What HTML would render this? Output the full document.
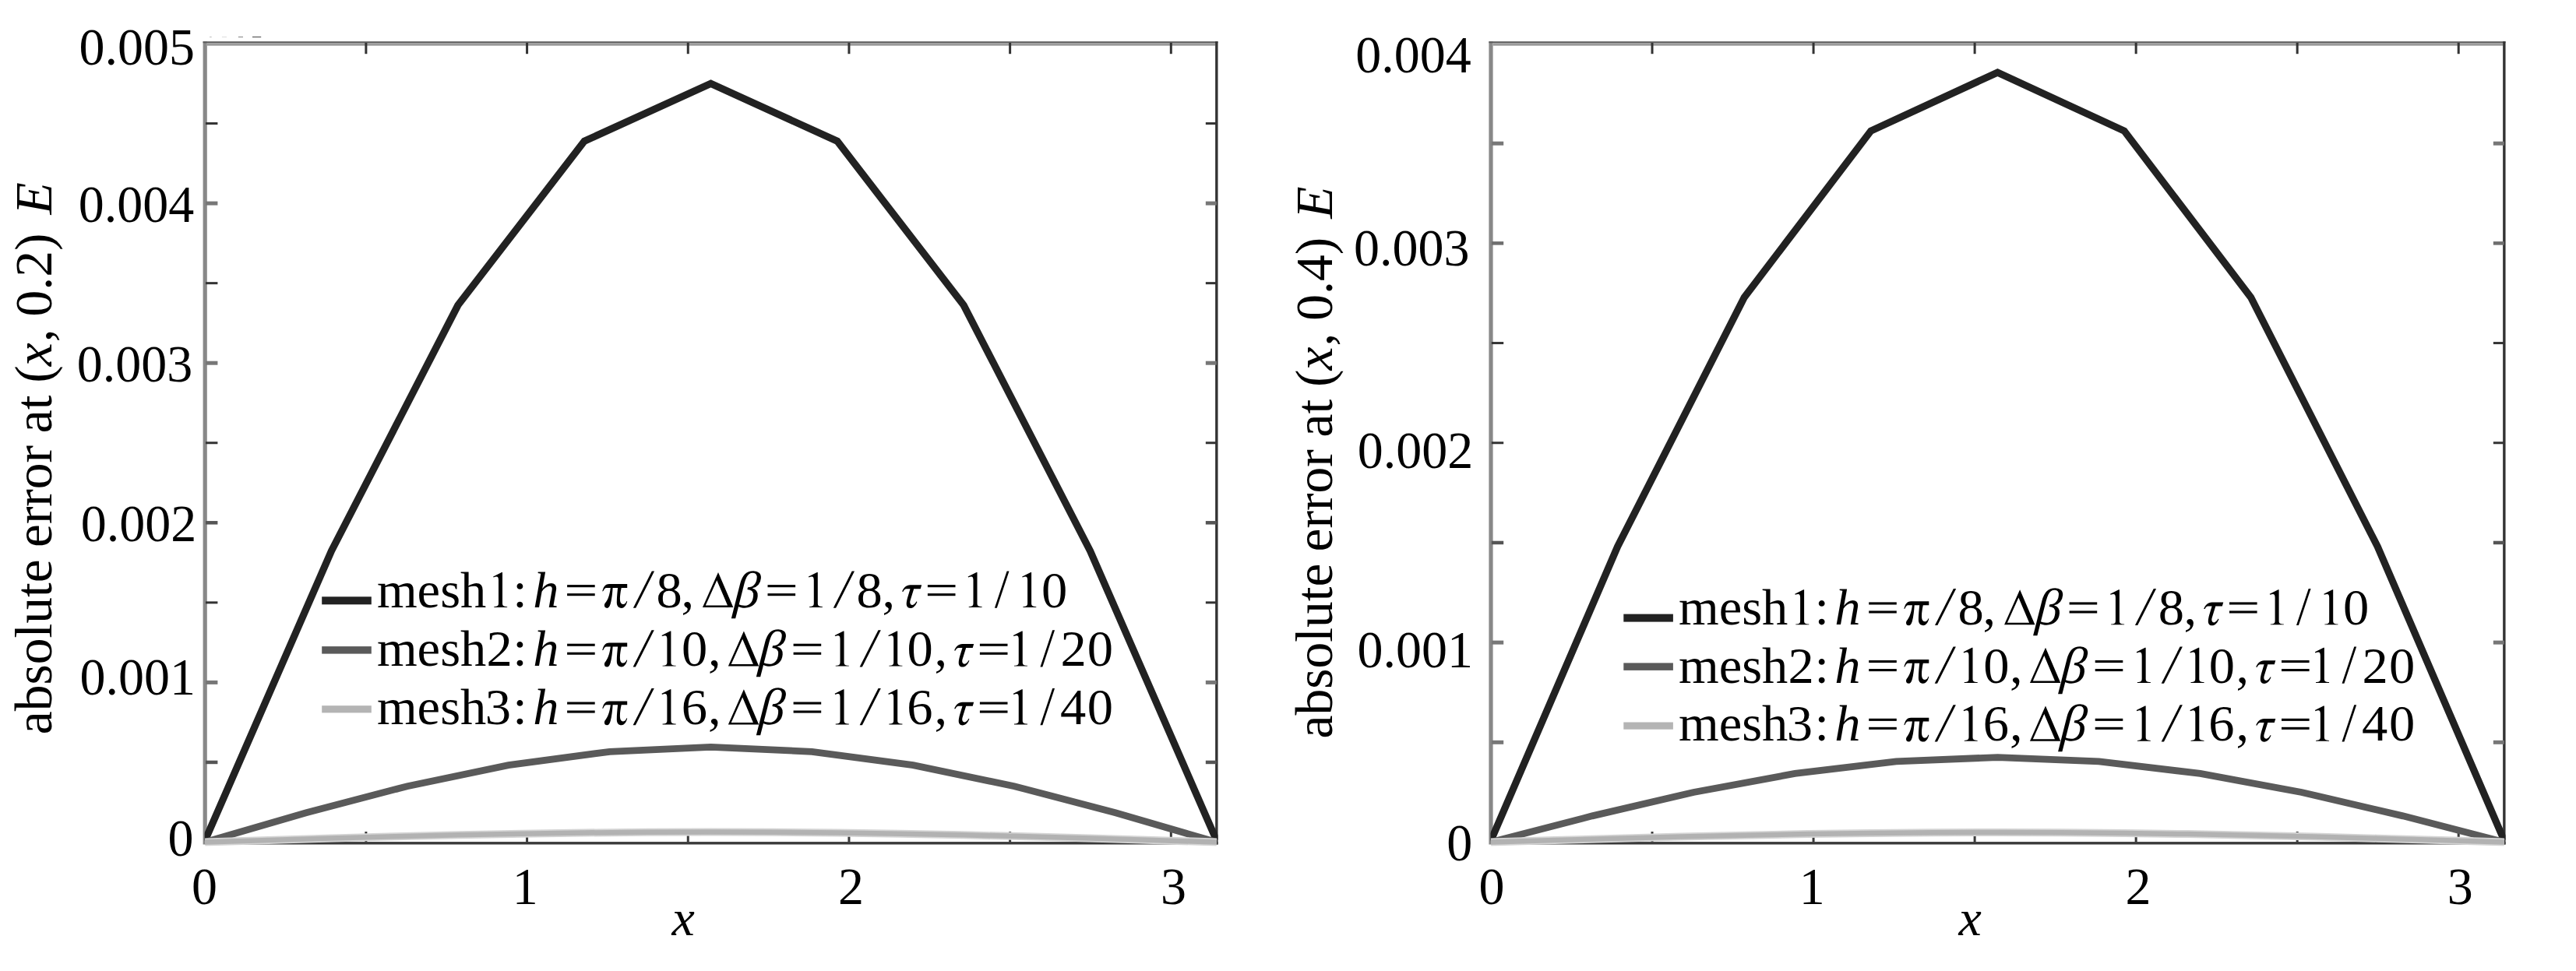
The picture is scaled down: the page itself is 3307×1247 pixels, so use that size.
<!DOCTYPE html>
<html><head><meta charset="utf-8"><title>chart</title>
<style>
html,body{margin:0;padding:0;background:#fff;}
body{width:3307px;height:1247px;overflow:hidden;}
svg{display:block;}
text{font-family:"Liberation Serif",serif;fill:#000;}
</style></head><body>
<svg width="3307" height="1247" viewBox="0 0 3307 1247" role="img" aria-label="Absolute error E versus x for three meshes, at (x, 0.2) and (x, 0.4)">
<desc>Two line charts. Left: absolute error at (x, 0.2) E versus x. Right: absolute error at (x, 0.4) E versus x. Legend: mesh1: h=π/8, Δβ=1/8, τ=1/10; mesh2: h=π/10, Δβ=1/10, τ=1/20; mesh3: h=π/16, Δβ=1/16, τ=1/40.</desc>
<rect width="3307" height="1247" fill="#ffffff"/>
<clipPath id="cl"><rect x="262.70" y="56.00" width="1300.84" height="1030.70"/></clipPath>
<rect x="260.60" y="53.20" width="5.20" height="1031.30" fill="#888888"/>
<rect x="260.60" y="53.20" width="1302.94" height="2.00" fill="#5c5c5c"/>
<rect x="265.80" y="55.20" width="1294.34" height="3.50" fill="#9a9a9a"/>
<rect x="1560.14" y="53.20" width="3.40" height="1031.30" fill="#333333"/>
<rect x="263.20" y="1081.10" width="1300.34" height="3.40" fill="#3a3a3a"/>
<rect x="468.38" y="55.00" width="3.00" height="14.20" fill="#333333"/>
<rect x="468.38" y="1068.00" width="3.00" height="13.50" fill="#3a3a3a"/>
<rect x="675.07" y="55.00" width="3.00" height="14.20" fill="#333333"/>
<rect x="675.07" y="1068.00" width="3.00" height="13.50" fill="#3a3a3a"/>
<rect x="881.76" y="55.00" width="3.00" height="14.20" fill="#333333"/>
<rect x="881.76" y="1068.00" width="3.00" height="13.50" fill="#3a3a3a"/>
<rect x="1088.44" y="55.00" width="3.00" height="14.20" fill="#333333"/>
<rect x="1088.44" y="1068.00" width="3.00" height="13.50" fill="#3a3a3a"/>
<rect x="1295.12" y="55.00" width="3.00" height="14.20" fill="#333333"/>
<rect x="1295.12" y="1068.00" width="3.00" height="13.50" fill="#3a3a3a"/>
<rect x="1501.81" y="55.00" width="3.00" height="14.20" fill="#333333"/>
<rect x="1501.81" y="1068.00" width="3.00" height="13.50" fill="#3a3a3a"/>
<rect x="264.00" y="976.70" width="15.40" height="4.50" fill="#555555"/>
<rect x="1547.84" y="976.70" width="14.00" height="4.50" fill="#555555"/>
<rect x="264.00" y="873.90" width="15.40" height="5.00" fill="#777777"/>
<rect x="1547.84" y="873.90" width="14.00" height="5.00" fill="#777777"/>
<rect x="264.00" y="772.35" width="15.40" height="3.00" fill="#333333"/>
<rect x="1547.84" y="772.35" width="14.00" height="3.00" fill="#333333"/>
<rect x="264.00" y="669.05" width="15.40" height="4.50" fill="#555555"/>
<rect x="1547.84" y="669.05" width="14.00" height="4.50" fill="#555555"/>
<rect x="264.00" y="567.25" width="15.40" height="3.00" fill="#333333"/>
<rect x="1547.84" y="567.25" width="14.00" height="3.00" fill="#333333"/>
<rect x="264.00" y="463.70" width="15.40" height="5.00" fill="#777777"/>
<rect x="1547.84" y="463.70" width="14.00" height="5.00" fill="#777777"/>
<rect x="264.00" y="362.15" width="15.40" height="3.00" fill="#333333"/>
<rect x="1547.84" y="362.15" width="14.00" height="3.00" fill="#333333"/>
<rect x="264.00" y="258.60" width="15.40" height="5.00" fill="#777777"/>
<rect x="1547.84" y="258.60" width="14.00" height="5.00" fill="#777777"/>
<rect x="264.00" y="157.05" width="15.40" height="3.00" fill="#333333"/>
<rect x="1547.84" y="157.05" width="14.00" height="3.00" fill="#333333"/>
<polyline clip-path="url(#cl)" points="263.20,1079.50 425.53,707.46 587.86,392.05 750.19,181.30 912.52,107.30 1074.85,181.30 1237.18,392.05 1399.51,707.46 1561.84,1079.50" fill="none" stroke="#222222" stroke-width="9.2" stroke-linejoin="miter" stroke-linecap="butt"/>
<polyline clip-path="url(#cl)" points="263.20,1081.50 393.06,1043.74 522.93,1009.67 652.79,982.64 782.66,965.28 912.52,959.30 1042.38,965.28 1172.25,982.64 1302.11,1009.67 1431.98,1043.74 1561.84,1081.50" fill="none" stroke="#5a5a5a" stroke-width="8.8" stroke-linejoin="miter" stroke-linecap="butt"/>
<polyline clip-path="url(#cl)" points="263.20,1081.50 344.37,1078.96 425.53,1076.53 506.70,1074.28 587.86,1072.31 669.03,1070.69 750.19,1069.49 831.36,1068.75 912.52,1068.50 993.69,1068.75 1074.85,1069.49 1156.02,1070.69 1237.18,1072.31 1318.35,1074.28 1399.51,1076.53 1480.68,1078.96 1561.84,1081.50" fill="none" stroke="#d4d4d4" stroke-width="10" stroke-linejoin="miter" stroke-linecap="butt"/>
<polyline clip-path="url(#cl)" points="263.20,1081.50 344.37,1078.96 425.53,1076.53 506.70,1074.28 587.86,1072.31 669.03,1070.69 750.19,1069.49 831.36,1068.75 912.52,1068.50 993.69,1068.75 1074.85,1069.49 1156.02,1070.69 1237.18,1072.31 1318.35,1074.28 1399.51,1076.53 1480.68,1078.96 1561.84,1081.50" fill="none" stroke="#b2b2b2" stroke-width="6.5" stroke-linejoin="miter" stroke-linecap="butt"/>
<clipPath id="cr"><rect x="1913.50" y="56.00" width="1303.04" height="1030.70"/></clipPath>
<rect x="1911.40" y="53.20" width="5.20" height="1031.30" fill="#888888"/>
<rect x="1911.40" y="53.20" width="1305.14" height="2.00" fill="#5c5c5c"/>
<rect x="1916.60" y="55.20" width="1296.54" height="3.50" fill="#9a9a9a"/>
<rect x="3213.14" y="53.20" width="3.40" height="1031.30" fill="#333333"/>
<rect x="1914.00" y="1081.10" width="1302.54" height="3.40" fill="#3a3a3a"/>
<rect x="2119.53" y="55.00" width="3.00" height="14.20" fill="#333333"/>
<rect x="2119.53" y="1068.00" width="3.00" height="13.50" fill="#3a3a3a"/>
<rect x="2326.57" y="55.00" width="3.00" height="14.20" fill="#333333"/>
<rect x="2326.57" y="1068.00" width="3.00" height="13.50" fill="#3a3a3a"/>
<rect x="2533.61" y="55.00" width="3.00" height="14.20" fill="#333333"/>
<rect x="2533.61" y="1068.00" width="3.00" height="13.50" fill="#3a3a3a"/>
<rect x="2740.64" y="55.00" width="3.00" height="14.20" fill="#333333"/>
<rect x="2740.64" y="1068.00" width="3.00" height="13.50" fill="#3a3a3a"/>
<rect x="2947.68" y="55.00" width="3.00" height="14.20" fill="#333333"/>
<rect x="2947.68" y="1068.00" width="3.00" height="13.50" fill="#3a3a3a"/>
<rect x="3154.71" y="55.00" width="3.00" height="14.20" fill="#333333"/>
<rect x="3154.71" y="1068.00" width="3.00" height="13.50" fill="#3a3a3a"/>
<rect x="1914.80" y="950.81" width="15.40" height="5.00" fill="#777777"/>
<rect x="3200.84" y="950.81" width="14.00" height="5.00" fill="#777777"/>
<rect x="1914.80" y="822.62" width="15.40" height="5.00" fill="#777777"/>
<rect x="3200.84" y="822.62" width="14.00" height="5.00" fill="#777777"/>
<rect x="1914.80" y="694.69" width="15.40" height="4.50" fill="#555555"/>
<rect x="3200.84" y="694.69" width="14.00" height="4.50" fill="#555555"/>
<rect x="1914.80" y="567.25" width="15.40" height="3.00" fill="#333333"/>
<rect x="3200.84" y="567.25" width="14.00" height="3.00" fill="#333333"/>
<rect x="1914.80" y="439.06" width="15.40" height="3.00" fill="#333333"/>
<rect x="3200.84" y="439.06" width="14.00" height="3.00" fill="#333333"/>
<rect x="1914.80" y="310.12" width="15.40" height="4.50" fill="#6e6e6e"/>
<rect x="3200.84" y="310.12" width="14.00" height="4.50" fill="#6e6e6e"/>
<rect x="1914.80" y="181.69" width="15.40" height="5.00" fill="#777777"/>
<rect x="3200.84" y="181.69" width="14.00" height="5.00" fill="#777777"/>
<polyline clip-path="url(#cr)" points="1914.00,1079.50 2076.60,701.98 2239.21,381.94 2401.81,168.09 2564.42,93.00 2727.02,168.09 2889.63,381.94 3052.23,701.98 3214.84,1079.50" fill="none" stroke="#222222" stroke-width="9.2" stroke-linejoin="miter" stroke-linecap="butt"/>
<polyline clip-path="url(#cr)" points="1914.00,1081.50 2044.08,1047.85 2174.17,1017.49 2304.25,993.40 2434.34,977.93 2564.42,972.60 2694.50,977.93 2824.59,993.40 2954.67,1017.49 3084.76,1047.85 3214.84,1081.50" fill="none" stroke="#5a5a5a" stroke-width="8.8" stroke-linejoin="miter" stroke-linecap="butt"/>
<polyline clip-path="url(#cr)" points="1914.00,1081.50 1995.30,1079.06 2076.60,1076.72 2157.91,1074.56 2239.21,1072.66 2320.51,1071.11 2401.81,1069.95 2483.12,1069.24 2564.42,1069.00 2645.72,1069.24 2727.02,1069.95 2808.33,1071.11 2889.63,1072.66 2970.93,1074.56 3052.23,1076.72 3133.54,1079.06 3214.84,1081.50" fill="none" stroke="#d4d4d4" stroke-width="10" stroke-linejoin="miter" stroke-linecap="butt"/>
<polyline clip-path="url(#cr)" points="1914.00,1081.50 1995.30,1079.06 2076.60,1076.72 2157.91,1074.56 2239.21,1072.66 2320.51,1071.11 2401.81,1069.95 2483.12,1069.24 2564.42,1069.00 2645.72,1069.24 2727.02,1069.95 2808.33,1071.11 2889.63,1072.66 2970.93,1074.56 3052.23,1076.72 3133.54,1079.06 3214.84,1081.50" fill="none" stroke="#b2b2b2" stroke-width="6.5" stroke-linejoin="miter" stroke-linecap="butt"/>
<rect x="269.10" y="46.90" width="2.60" height="1.20" fill="#c4c4c4"/>
<rect x="284.90" y="46.90" width="6.10" height="1.20" fill="#e2e2e2"/>
<rect x="305.90" y="46.90" width="6.10" height="1.20" fill="#909090"/>
<rect x="324.00" y="46.90" width="11.20" height="1.20" fill="#5a5a5a"/>
<text transform="translate(215.41,1099.13) scale(1,1.025)" font-size="66" text-anchor="start">0</text>
<text transform="translate(102.46,892.33) scale(1,1.025)" font-size="66" text-anchor="start">0.001</text>
<text transform="translate(103.64,694.93) scale(1,1.025)" font-size="66" text-anchor="start">0.002</text>
<text transform="translate(98.78,489.73) scale(1,1.025)" font-size="66" text-anchor="start">0.003</text>
<text transform="translate(100.83,284.93) scale(1,1.025)" font-size="66" text-anchor="start">0.004</text>
<text transform="translate(101.58,82.83) scale(1,1.025)" font-size="66" text-anchor="start">0.005</text>
<text transform="translate(1857.21,1105.13) scale(1,1.025)" font-size="66" text-anchor="start">0</text>
<text transform="translate(1742.46,856.73) scale(1,1.025)" font-size="66" text-anchor="start">0.001</text>
<text transform="translate(1742.74,600.73) scale(1,1.025)" font-size="66" text-anchor="start">0.002</text>
<text transform="translate(1738.08,340.93) scale(1,1.025)" font-size="66" text-anchor="start">0.003</text>
<text transform="translate(1740.13,93.13) scale(1,1.025)" font-size="66" text-anchor="start">0.004</text>
<text transform="translate(246.10,1161.00) scale(1,1.025)" font-size="66" text-anchor="start">0</text>
<text transform="translate(657.73,1161.00) scale(1,1.025)" font-size="66" text-anchor="start">1</text>
<text transform="translate(1076.07,1161.00) scale(1,1.025)" font-size="66" text-anchor="start">2</text>
<text transform="translate(1490.11,1161.00) scale(1,1.025)" font-size="66" text-anchor="start">3</text>
<text transform="translate(1898.50,1161.00) scale(1,1.025)" font-size="66" text-anchor="start">0</text>
<text transform="translate(2309.68,1161.00) scale(1,1.025)" font-size="66" text-anchor="start">1</text>
<text transform="translate(2728.57,1161.00) scale(1,1.025)" font-size="66" text-anchor="start">2</text>
<text transform="translate(3141.81,1161.00) scale(1,1.025)" font-size="66" text-anchor="start">3</text>
<text x="862.40" y="1201.30" font-size="66" text-anchor="start" font-style="italic">x</text>
<text x="2514.50" y="1201.30" font-size="66" text-anchor="start" font-style="italic">x</text>
<text transform="translate(66.30,830.80) rotate(-90)" font-size="67.5" text-anchor="middle">absolute</text>
<text transform="translate(66.30,637.50) rotate(-90)" font-size="67.5" text-anchor="middle">error</text>
<text transform="translate(66.30,531.80) rotate(-90)" font-size="67.5" text-anchor="middle">at</text>
<text transform="translate(66.30,480.40) rotate(-90)" font-size="67.5" text-anchor="middle">(</text>
<text transform="translate(66.30,455.30) rotate(-90)" font-size="67.5" text-anchor="middle" font-style="italic">x</text>
<text transform="translate(66.30,430.70) rotate(-90)" font-size="67.5" text-anchor="middle">,</text>
<text transform="translate(66.30,353.00) rotate(-90)" font-size="67.5" text-anchor="middle">0.2)</text>
<text transform="translate(66.30,254.90) rotate(-90)" font-size="67.5" text-anchor="middle" font-style="italic">E</text>
<text transform="translate(1710.40,836.10) rotate(-90)" font-size="67.5" text-anchor="middle">absolute</text>
<text transform="translate(1710.40,642.80) rotate(-90)" font-size="67.5" text-anchor="middle">error</text>
<text transform="translate(1710.40,537.10) rotate(-90)" font-size="67.5" text-anchor="middle">at</text>
<text transform="translate(1710.40,485.70) rotate(-90)" font-size="67.5" text-anchor="middle">(</text>
<text transform="translate(1710.40,460.60) rotate(-90)" font-size="67.5" text-anchor="middle" font-style="italic">x</text>
<text transform="translate(1710.40,436.00) rotate(-90)" font-size="67.5" text-anchor="middle">,</text>
<text transform="translate(1710.40,358.30) rotate(-90)" font-size="67.5" text-anchor="middle">0.4)</text>
<text transform="translate(1710.40,260.20) rotate(-90)" font-size="67.5" text-anchor="middle" font-style="italic">E</text>
<rect x="413.20" y="766.30" width="63.60" height="10.00" fill="#222222"/>
<text x="483.90" y="779.60" font-size="66.5" text-anchor="start">mesh</text>
<path transform="translate(641.90,779.60)" d="M3.1,-44.7 L3.1,-5 C3.1,-1.5 4.5,-0.6 9.3,-0.4 L9.3,0.4 L-7.7,0.4 L-7.7,-0.4 C-3.2,-0.6 -1.9,-1.5 -1.9,-5 L-1.9,-34.5 C-1.9,-37.8 -2.8,-39 -4.6,-39 C-5.6,-39 -6.8,-38.7 -8.3,-38.1 L-8.8,-39.2 L2.2,-44.7 Z" fill="#000"/>
<text x="658.33" y="779.60" font-size="66.5" text-anchor="start">:</text>
<text x="684.15" y="779.60" font-size="66.5" text-anchor="start" font-style="italic">h</text>
<rect x="728.10" y="751.10" width="35.60" height="3.10" fill="#000"/>
<rect x="728.10" y="762.10" width="35.60" height="3.10" fill="#000"/>
<path transform="translate(789.20,779.60)" d="M-16,-20 C-14.5,-25 -13,-29.6 -7,-29.6 L16,-29.6 L16,-24.7 L8.5,-24.7 C7.5,-20 6.7,-15 6.7,-10.8 C6.7,-6.5 8,-3.6 10.8,-3.6 C13,-3.6 14.5,-5.5 15.2,-7.7 L16,-7.4 C15,-3 12.5,1.3 8.8,1.3 C4.5,1.3 2.6,-2 2.6,-6.1 C2.6,-12 3.3,-19 3.9,-24.7 L-2.6,-24.7 C-3,-18 -3.8,-10 -5.5,-4 C-6.5,-0.5 -8,1.3 -9.8,1.3 C-12,1.3 -13.3,0 -13.3,-2 C-13.3,-4 -12.5,-5 -11.5,-6 C-8.5,-10 -6.5,-16 -5.4,-24.7 L-10.8,-24.7 C-12.5,-24.7 -13.8,-23 -14.7,-20.5 Z" fill="#000"/>
<polygon points="812.90,780.80 816.20,780.80 840.10,733.60 836.80,733.60" fill="#000"/>
<text x="842.38" y="779.60" font-size="66.5" text-anchor="start">8</text>
<text x="874.52" y="779.60" font-size="66.5" text-anchor="start">,</text>
<path transform="translate(922.40,779.60)" d="M-20.45,0.4 L-0.4,-44.7 L18.9,0.4 Z M-16.6,-2.1 L11.6,-2.1 L-2.1,-34.4 Z" fill="#000" fill-rule="evenodd"/>
<text transform="translate(957.10,779.60) skewX(-4.5)" x="-15.98" y="0" font-size="66.5" font-style="italic">β</text>
<rect x="985.50" y="751.10" width="35.60" height="3.10" fill="#000"/>
<rect x="985.50" y="762.10" width="35.60" height="3.10" fill="#000"/>
<path transform="translate(1046.70,779.60)" d="M3.1,-44.7 L3.1,-5 C3.1,-1.5 4.5,-0.6 9.3,-0.4 L9.3,0.4 L-7.7,0.4 L-7.7,-0.4 C-3.2,-0.6 -1.9,-1.5 -1.9,-5 L-1.9,-34.5 C-1.9,-37.8 -2.8,-39 -4.6,-39 C-5.6,-39 -6.8,-38.7 -8.3,-38.1 L-8.8,-39.2 L2.2,-44.7 Z" fill="#000"/>
<polygon points="1069.80,780.80 1073.10,780.80 1097.00,733.60 1093.70,733.60" fill="#000"/>
<text x="1099.58" y="779.60" font-size="66.5" text-anchor="start">8</text>
<text x="1132.52" y="779.60" font-size="66.5" text-anchor="start">,</text>
<path transform="translate(1170.30,779.60)" d="M-12.2,-19.8 C-10.5,-24.5 -7,-28.3 -1.8,-28.3 L12.9,-28.3 L11.4,-23.3 L2.9,-23.3 L-1.8,-8.2 C-2.6,-5 -1.5,-2.5 1,-2.5 C3,-2.5 4.8,-5 6.3,-7.3 L7.1,-6.7 C5.5,-2.5 2.5,1.4 -1.8,1.4 C-5,1.4 -6.6,-1 -6.6,-4 C-6.6,-6.5 -5.8,-10 -5.2,-12.1 L-1.8,-23.3 L-6.8,-23.3 C-8.5,-23.3 -9.8,-21.8 -10.7,-19.8 Z" fill="#000"/>
<rect x="1190.90" y="751.10" width="35.60" height="3.10" fill="#000"/>
<rect x="1190.90" y="762.10" width="35.60" height="3.10" fill="#000"/>
<path transform="translate(1251.40,779.60)" d="M3.1,-44.7 L3.1,-5 C3.1,-1.5 4.5,-0.6 9.3,-0.4 L9.3,0.4 L-7.7,0.4 L-7.7,-0.4 C-3.2,-0.6 -1.9,-1.5 -1.9,-5 L-1.9,-34.5 C-1.9,-37.8 -2.8,-39 -4.6,-39 C-5.6,-39 -6.8,-38.7 -8.3,-38.1 L-8.8,-39.2 L2.2,-44.7 Z" fill="#000"/>
<polygon points="1276.90,780.80 1279.80,780.80 1295.50,733.60 1292.60,733.60" fill="#000"/>
<path transform="translate(1321.00,779.60)" d="M3.1,-44.7 L3.1,-5 C3.1,-1.5 4.5,-0.6 9.3,-0.4 L9.3,0.4 L-7.7,0.4 L-7.7,-0.4 C-3.2,-0.6 -1.9,-1.5 -1.9,-5 L-1.9,-34.5 C-1.9,-37.8 -2.8,-39 -4.6,-39 C-5.6,-39 -6.8,-38.7 -8.3,-38.1 L-8.8,-39.2 L2.2,-44.7 Z" fill="#000"/>
<text x="1336.88" y="779.60" font-size="66.5" text-anchor="start">0</text>
<rect x="413.20" y="830.10" width="63.60" height="9.50" fill="#5a5a5a"/>
<text x="483.90" y="855.20" font-size="66.5" text-anchor="start">mesh</text>
<text x="624.45" y="855.20" font-size="66.5" text-anchor="start">2</text>
<text x="658.33" y="855.20" font-size="66.5" text-anchor="start">:</text>
<text x="684.15" y="855.20" font-size="66.5" text-anchor="start" font-style="italic">h</text>
<rect x="728.10" y="826.70" width="35.60" height="3.10" fill="#000"/>
<rect x="728.10" y="837.70" width="35.60" height="3.10" fill="#000"/>
<path transform="translate(789.20,855.20)" d="M-16,-20 C-14.5,-25 -13,-29.6 -7,-29.6 L16,-29.6 L16,-24.7 L8.5,-24.7 C7.5,-20 6.7,-15 6.7,-10.8 C6.7,-6.5 8,-3.6 10.8,-3.6 C13,-3.6 14.5,-5.5 15.2,-7.7 L16,-7.4 C15,-3 12.5,1.3 8.8,1.3 C4.5,1.3 2.6,-2 2.6,-6.1 C2.6,-12 3.3,-19 3.9,-24.7 L-2.6,-24.7 C-3,-18 -3.8,-10 -5.5,-4 C-6.5,-0.5 -8,1.3 -9.8,1.3 C-12,1.3 -13.3,0 -13.3,-2 C-13.3,-4 -12.5,-5 -11.5,-6 C-8.5,-10 -6.5,-16 -5.4,-24.7 L-10.8,-24.7 C-12.5,-24.7 -13.8,-23 -14.7,-20.5 Z" fill="#000"/>
<polygon points="812.60,856.40 815.90,856.40 839.80,809.20 836.50,809.20" fill="#000"/>
<path transform="translate(858.30,855.20)" d="M3.1,-44.7 L3.1,-5 C3.1,-1.5 4.5,-0.6 9.3,-0.4 L9.3,0.4 L-7.7,0.4 L-7.7,-0.4 C-3.2,-0.6 -1.9,-1.5 -1.9,-5 L-1.9,-34.5 C-1.9,-37.8 -2.8,-39 -4.6,-39 C-5.6,-39 -6.8,-38.7 -8.3,-38.1 L-8.8,-39.2 L2.2,-44.7 Z" fill="#000"/>
<text x="875.08" y="855.20" font-size="66.5" text-anchor="start">0</text>
<text x="909.02" y="855.20" font-size="66.5" text-anchor="start">,</text>
<path transform="translate(955.30,855.20)" d="M-20.45,0.4 L-0.4,-44.7 L18.9,0.4 Z M-16.6,-2.1 L11.6,-2.1 L-2.1,-34.4 Z" fill="#000" fill-rule="evenodd"/>
<text transform="translate(989.10,855.20) skewX(-4.5)" x="-15.98" y="0" font-size="66.5" font-style="italic">β</text>
<rect x="1018.60" y="826.70" width="35.60" height="3.10" fill="#000"/>
<rect x="1018.60" y="837.70" width="35.60" height="3.10" fill="#000"/>
<path transform="translate(1080.45,855.20)" d="M3.1,-44.7 L3.1,-5 C3.1,-1.5 4.5,-0.6 9.3,-0.4 L9.3,0.4 L-7.7,0.4 L-7.7,-0.4 C-3.2,-0.6 -1.9,-1.5 -1.9,-5 L-1.9,-34.5 C-1.9,-37.8 -2.8,-39 -4.6,-39 C-5.6,-39 -6.8,-38.7 -8.3,-38.1 L-8.8,-39.2 L2.2,-44.7 Z" fill="#000"/>
<polygon points="1103.60,856.40 1106.90,856.40 1130.80,809.20 1127.50,809.20" fill="#000"/>
<path transform="translate(1149.10,855.20)" d="M3.1,-44.7 L3.1,-5 C3.1,-1.5 4.5,-0.6 9.3,-0.4 L9.3,0.4 L-7.7,0.4 L-7.7,-0.4 C-3.2,-0.6 -1.9,-1.5 -1.9,-5 L-1.9,-34.5 C-1.9,-37.8 -2.8,-39 -4.6,-39 C-5.6,-39 -6.8,-38.7 -8.3,-38.1 L-8.8,-39.2 L2.2,-44.7 Z" fill="#000"/>
<text x="1164.62" y="855.20" font-size="66.5" text-anchor="start">0</text>
<text x="1199.52" y="855.20" font-size="66.5" text-anchor="start">,</text>
<path transform="translate(1237.30,855.20)" d="M-12.2,-19.8 C-10.5,-24.5 -7,-28.3 -1.8,-28.3 L12.9,-28.3 L11.4,-23.3 L2.9,-23.3 L-1.8,-8.2 C-2.6,-5 -1.5,-2.5 1,-2.5 C3,-2.5 4.8,-5 6.3,-7.3 L7.1,-6.7 C5.5,-2.5 2.5,1.4 -1.8,1.4 C-5,1.4 -6.6,-1 -6.6,-4 C-6.6,-6.5 -5.8,-10 -5.2,-12.1 L-1.8,-23.3 L-6.8,-23.3 C-8.5,-23.3 -9.8,-21.8 -10.7,-19.8 Z" fill="#000"/>
<rect x="1257.90" y="826.70" width="35.60" height="3.10" fill="#000"/>
<rect x="1257.90" y="837.70" width="35.60" height="3.10" fill="#000"/>
<path transform="translate(1309.65,855.20)" d="M3.1,-44.7 L3.1,-5 C3.1,-1.5 4.5,-0.6 9.3,-0.4 L9.3,0.4 L-7.7,0.4 L-7.7,-0.4 C-3.2,-0.6 -1.9,-1.5 -1.9,-5 L-1.9,-34.5 C-1.9,-37.8 -2.8,-39 -4.6,-39 C-5.6,-39 -6.8,-38.7 -8.3,-38.1 L-8.8,-39.2 L2.2,-44.7 Z" fill="#000"/>
<polygon points="1335.45,856.40 1338.35,856.40 1354.05,809.20 1351.15,809.20" fill="#000"/>
<text x="1361.40" y="855.20" font-size="66.5" text-anchor="start">2</text>
<text x="1395.83" y="855.20" font-size="66.5" text-anchor="start">0</text>
<rect x="413.20" y="906.20" width="63.60" height="9.20" fill="#b4b4b4"/>
<text x="483.90" y="930.00" font-size="66.5" text-anchor="start">mesh</text>
<text x="622.68" y="930.00" font-size="66.5" text-anchor="start">3</text>
<text x="658.33" y="930.00" font-size="66.5" text-anchor="start">:</text>
<text x="684.15" y="930.00" font-size="66.5" text-anchor="start" font-style="italic">h</text>
<rect x="728.10" y="901.50" width="35.60" height="3.10" fill="#000"/>
<rect x="728.10" y="912.50" width="35.60" height="3.10" fill="#000"/>
<path transform="translate(789.20,930.00)" d="M-16,-20 C-14.5,-25 -13,-29.6 -7,-29.6 L16,-29.6 L16,-24.7 L8.5,-24.7 C7.5,-20 6.7,-15 6.7,-10.8 C6.7,-6.5 8,-3.6 10.8,-3.6 C13,-3.6 14.5,-5.5 15.2,-7.7 L16,-7.4 C15,-3 12.5,1.3 8.8,1.3 C4.5,1.3 2.6,-2 2.6,-6.1 C2.6,-12 3.3,-19 3.9,-24.7 L-2.6,-24.7 C-3,-18 -3.8,-10 -5.5,-4 C-6.5,-0.5 -8,1.3 -9.8,1.3 C-12,1.3 -13.3,0 -13.3,-2 C-13.3,-4 -12.5,-5 -11.5,-6 C-8.5,-10 -6.5,-16 -5.4,-24.7 L-10.8,-24.7 C-12.5,-24.7 -13.8,-23 -14.7,-20.5 Z" fill="#000"/>
<polygon points="812.60,931.20 815.90,931.20 839.80,884.00 836.50,884.00" fill="#000"/>
<path transform="translate(858.30,930.00)" d="M3.1,-44.7 L3.1,-5 C3.1,-1.5 4.5,-0.6 9.3,-0.4 L9.3,0.4 L-7.7,0.4 L-7.7,-0.4 C-3.2,-0.6 -1.9,-1.5 -1.9,-5 L-1.9,-34.5 C-1.9,-37.8 -2.8,-39 -4.6,-39 C-5.6,-39 -6.8,-38.7 -8.3,-38.1 L-8.8,-39.2 L2.2,-44.7 Z" fill="#000"/>
<text x="874.64" y="930.00" font-size="66.5" text-anchor="start">6</text>
<text x="909.02" y="930.00" font-size="66.5" text-anchor="start">,</text>
<path transform="translate(955.30,930.00)" d="M-20.45,0.4 L-0.4,-44.7 L18.9,0.4 Z M-16.6,-2.1 L11.6,-2.1 L-2.1,-34.4 Z" fill="#000" fill-rule="evenodd"/>
<text transform="translate(989.10,930.00) skewX(-4.5)" x="-15.98" y="0" font-size="66.5" font-style="italic">β</text>
<rect x="1018.60" y="901.50" width="35.60" height="3.10" fill="#000"/>
<rect x="1018.60" y="912.50" width="35.60" height="3.10" fill="#000"/>
<path transform="translate(1080.45,930.00)" d="M3.1,-44.7 L3.1,-5 C3.1,-1.5 4.5,-0.6 9.3,-0.4 L9.3,0.4 L-7.7,0.4 L-7.7,-0.4 C-3.2,-0.6 -1.9,-1.5 -1.9,-5 L-1.9,-34.5 C-1.9,-37.8 -2.8,-39 -4.6,-39 C-5.6,-39 -6.8,-38.7 -8.3,-38.1 L-8.8,-39.2 L2.2,-44.7 Z" fill="#000"/>
<polygon points="1103.60,931.20 1106.90,931.20 1130.80,884.00 1127.50,884.00" fill="#000"/>
<path transform="translate(1149.10,930.00)" d="M3.1,-44.7 L3.1,-5 C3.1,-1.5 4.5,-0.6 9.3,-0.4 L9.3,0.4 L-7.7,0.4 L-7.7,-0.4 C-3.2,-0.6 -1.9,-1.5 -1.9,-5 L-1.9,-34.5 C-1.9,-37.8 -2.8,-39 -4.6,-39 C-5.6,-39 -6.8,-38.7 -8.3,-38.1 L-8.8,-39.2 L2.2,-44.7 Z" fill="#000"/>
<text x="1164.19" y="930.00" font-size="66.5" text-anchor="start">6</text>
<text x="1199.52" y="930.00" font-size="66.5" text-anchor="start">,</text>
<path transform="translate(1237.30,930.00)" d="M-12.2,-19.8 C-10.5,-24.5 -7,-28.3 -1.8,-28.3 L12.9,-28.3 L11.4,-23.3 L2.9,-23.3 L-1.8,-8.2 C-2.6,-5 -1.5,-2.5 1,-2.5 C3,-2.5 4.8,-5 6.3,-7.3 L7.1,-6.7 C5.5,-2.5 2.5,1.4 -1.8,1.4 C-5,1.4 -6.6,-1 -6.6,-4 C-6.6,-6.5 -5.8,-10 -5.2,-12.1 L-1.8,-23.3 L-6.8,-23.3 C-8.5,-23.3 -9.8,-21.8 -10.7,-19.8 Z" fill="#000"/>
<rect x="1257.90" y="901.50" width="35.60" height="3.10" fill="#000"/>
<rect x="1257.90" y="912.50" width="35.60" height="3.10" fill="#000"/>
<path transform="translate(1309.65,930.00)" d="M3.1,-44.7 L3.1,-5 C3.1,-1.5 4.5,-0.6 9.3,-0.4 L9.3,0.4 L-7.7,0.4 L-7.7,-0.4 C-3.2,-0.6 -1.9,-1.5 -1.9,-5 L-1.9,-34.5 C-1.9,-37.8 -2.8,-39 -4.6,-39 C-5.6,-39 -6.8,-38.7 -8.3,-38.1 L-8.8,-39.2 L2.2,-44.7 Z" fill="#000"/>
<polygon points="1335.45,931.20 1338.35,931.20 1354.05,884.00 1351.15,884.00" fill="#000"/>
<text x="1360.90" y="930.00" font-size="66.5" text-anchor="start">4</text>
<text x="1395.83" y="930.00" font-size="66.5" text-anchor="start">0</text>
<rect x="2084.30" y="788.60" width="63.60" height="10.00" fill="#222222"/>
<text x="2155.00" y="801.90" font-size="66.5" text-anchor="start">mesh</text>
<path transform="translate(2313.00,801.90)" d="M3.1,-44.7 L3.1,-5 C3.1,-1.5 4.5,-0.6 9.3,-0.4 L9.3,0.4 L-7.7,0.4 L-7.7,-0.4 C-3.2,-0.6 -1.9,-1.5 -1.9,-5 L-1.9,-34.5 C-1.9,-37.8 -2.8,-39 -4.6,-39 C-5.6,-39 -6.8,-38.7 -8.3,-38.1 L-8.8,-39.2 L2.2,-44.7 Z" fill="#000"/>
<text x="2329.43" y="801.90" font-size="66.5" text-anchor="start">:</text>
<text x="2355.25" y="801.90" font-size="66.5" text-anchor="start" font-style="italic">h</text>
<rect x="2399.20" y="773.40" width="35.60" height="3.10" fill="#000"/>
<rect x="2399.20" y="784.40" width="35.60" height="3.10" fill="#000"/>
<path transform="translate(2460.30,801.90)" d="M-16,-20 C-14.5,-25 -13,-29.6 -7,-29.6 L16,-29.6 L16,-24.7 L8.5,-24.7 C7.5,-20 6.7,-15 6.7,-10.8 C6.7,-6.5 8,-3.6 10.8,-3.6 C13,-3.6 14.5,-5.5 15.2,-7.7 L16,-7.4 C15,-3 12.5,1.3 8.8,1.3 C4.5,1.3 2.6,-2 2.6,-6.1 C2.6,-12 3.3,-19 3.9,-24.7 L-2.6,-24.7 C-3,-18 -3.8,-10 -5.5,-4 C-6.5,-0.5 -8,1.3 -9.8,1.3 C-12,1.3 -13.3,0 -13.3,-2 C-13.3,-4 -12.5,-5 -11.5,-6 C-8.5,-10 -6.5,-16 -5.4,-24.7 L-10.8,-24.7 C-12.5,-24.7 -13.8,-23 -14.7,-20.5 Z" fill="#000"/>
<polygon points="2484.00,803.10 2487.30,803.10 2511.20,755.90 2507.90,755.90" fill="#000"/>
<text x="2513.47" y="801.90" font-size="66.5" text-anchor="start">8</text>
<text x="2545.62" y="801.90" font-size="66.5" text-anchor="start">,</text>
<path transform="translate(2593.50,801.90)" d="M-20.45,0.4 L-0.4,-44.7 L18.9,0.4 Z M-16.6,-2.1 L11.6,-2.1 L-2.1,-34.4 Z" fill="#000" fill-rule="evenodd"/>
<text transform="translate(2628.20,801.90) skewX(-4.5)" x="-15.98" y="0" font-size="66.5" font-style="italic">β</text>
<rect x="2656.60" y="773.40" width="35.60" height="3.10" fill="#000"/>
<rect x="2656.60" y="784.40" width="35.60" height="3.10" fill="#000"/>
<path transform="translate(2717.80,801.90)" d="M3.1,-44.7 L3.1,-5 C3.1,-1.5 4.5,-0.6 9.3,-0.4 L9.3,0.4 L-7.7,0.4 L-7.7,-0.4 C-3.2,-0.6 -1.9,-1.5 -1.9,-5 L-1.9,-34.5 C-1.9,-37.8 -2.8,-39 -4.6,-39 C-5.6,-39 -6.8,-38.7 -8.3,-38.1 L-8.8,-39.2 L2.2,-44.7 Z" fill="#000"/>
<polygon points="2740.90,803.10 2744.20,803.10 2768.10,755.90 2764.80,755.90" fill="#000"/>
<text x="2770.68" y="801.90" font-size="66.5" text-anchor="start">8</text>
<text x="2803.62" y="801.90" font-size="66.5" text-anchor="start">,</text>
<path transform="translate(2841.40,801.90)" d="M-12.2,-19.8 C-10.5,-24.5 -7,-28.3 -1.8,-28.3 L12.9,-28.3 L11.4,-23.3 L2.9,-23.3 L-1.8,-8.2 C-2.6,-5 -1.5,-2.5 1,-2.5 C3,-2.5 4.8,-5 6.3,-7.3 L7.1,-6.7 C5.5,-2.5 2.5,1.4 -1.8,1.4 C-5,1.4 -6.6,-1 -6.6,-4 C-6.6,-6.5 -5.8,-10 -5.2,-12.1 L-1.8,-23.3 L-6.8,-23.3 C-8.5,-23.3 -9.8,-21.8 -10.7,-19.8 Z" fill="#000"/>
<rect x="2862.00" y="773.40" width="35.60" height="3.10" fill="#000"/>
<rect x="2862.00" y="784.40" width="35.60" height="3.10" fill="#000"/>
<path transform="translate(2922.50,801.90)" d="M3.1,-44.7 L3.1,-5 C3.1,-1.5 4.5,-0.6 9.3,-0.4 L9.3,0.4 L-7.7,0.4 L-7.7,-0.4 C-3.2,-0.6 -1.9,-1.5 -1.9,-5 L-1.9,-34.5 C-1.9,-37.8 -2.8,-39 -4.6,-39 C-5.6,-39 -6.8,-38.7 -8.3,-38.1 L-8.8,-39.2 L2.2,-44.7 Z" fill="#000"/>
<polygon points="2948.00,803.10 2950.90,803.10 2966.60,755.90 2963.70,755.90" fill="#000"/>
<path transform="translate(2992.10,801.90)" d="M3.1,-44.7 L3.1,-5 C3.1,-1.5 4.5,-0.6 9.3,-0.4 L9.3,0.4 L-7.7,0.4 L-7.7,-0.4 C-3.2,-0.6 -1.9,-1.5 -1.9,-5 L-1.9,-34.5 C-1.9,-37.8 -2.8,-39 -4.6,-39 C-5.6,-39 -6.8,-38.7 -8.3,-38.1 L-8.8,-39.2 L2.2,-44.7 Z" fill="#000"/>
<text x="3007.97" y="801.90" font-size="66.5" text-anchor="start">0</text>
<rect x="2084.30" y="851.40" width="63.60" height="9.50" fill="#5a5a5a"/>
<text x="2155.00" y="876.50" font-size="66.5" text-anchor="start">mesh</text>
<text x="2295.55" y="876.50" font-size="66.5" text-anchor="start">2</text>
<text x="2329.43" y="876.50" font-size="66.5" text-anchor="start">:</text>
<text x="2355.25" y="876.50" font-size="66.5" text-anchor="start" font-style="italic">h</text>
<rect x="2399.20" y="848.00" width="35.60" height="3.10" fill="#000"/>
<rect x="2399.20" y="859.00" width="35.60" height="3.10" fill="#000"/>
<path transform="translate(2460.30,876.50)" d="M-16,-20 C-14.5,-25 -13,-29.6 -7,-29.6 L16,-29.6 L16,-24.7 L8.5,-24.7 C7.5,-20 6.7,-15 6.7,-10.8 C6.7,-6.5 8,-3.6 10.8,-3.6 C13,-3.6 14.5,-5.5 15.2,-7.7 L16,-7.4 C15,-3 12.5,1.3 8.8,1.3 C4.5,1.3 2.6,-2 2.6,-6.1 C2.6,-12 3.3,-19 3.9,-24.7 L-2.6,-24.7 C-3,-18 -3.8,-10 -5.5,-4 C-6.5,-0.5 -8,1.3 -9.8,1.3 C-12,1.3 -13.3,0 -13.3,-2 C-13.3,-4 -12.5,-5 -11.5,-6 C-8.5,-10 -6.5,-16 -5.4,-24.7 L-10.8,-24.7 C-12.5,-24.7 -13.8,-23 -14.7,-20.5 Z" fill="#000"/>
<polygon points="2483.70,877.70 2487.00,877.70 2510.90,830.50 2507.60,830.50" fill="#000"/>
<path transform="translate(2529.40,876.50)" d="M3.1,-44.7 L3.1,-5 C3.1,-1.5 4.5,-0.6 9.3,-0.4 L9.3,0.4 L-7.7,0.4 L-7.7,-0.4 C-3.2,-0.6 -1.9,-1.5 -1.9,-5 L-1.9,-34.5 C-1.9,-37.8 -2.8,-39 -4.6,-39 C-5.6,-39 -6.8,-38.7 -8.3,-38.1 L-8.8,-39.2 L2.2,-44.7 Z" fill="#000"/>
<text x="2546.18" y="876.50" font-size="66.5" text-anchor="start">0</text>
<text x="2580.12" y="876.50" font-size="66.5" text-anchor="start">,</text>
<path transform="translate(2626.40,876.50)" d="M-20.45,0.4 L-0.4,-44.7 L18.9,0.4 Z M-16.6,-2.1 L11.6,-2.1 L-2.1,-34.4 Z" fill="#000" fill-rule="evenodd"/>
<text transform="translate(2660.20,876.50) skewX(-4.5)" x="-15.98" y="0" font-size="66.5" font-style="italic">β</text>
<rect x="2689.70" y="848.00" width="35.60" height="3.10" fill="#000"/>
<rect x="2689.70" y="859.00" width="35.60" height="3.10" fill="#000"/>
<path transform="translate(2751.55,876.50)" d="M3.1,-44.7 L3.1,-5 C3.1,-1.5 4.5,-0.6 9.3,-0.4 L9.3,0.4 L-7.7,0.4 L-7.7,-0.4 C-3.2,-0.6 -1.9,-1.5 -1.9,-5 L-1.9,-34.5 C-1.9,-37.8 -2.8,-39 -4.6,-39 C-5.6,-39 -6.8,-38.7 -8.3,-38.1 L-8.8,-39.2 L2.2,-44.7 Z" fill="#000"/>
<polygon points="2774.70,877.70 2778.00,877.70 2801.90,830.50 2798.60,830.50" fill="#000"/>
<path transform="translate(2820.20,876.50)" d="M3.1,-44.7 L3.1,-5 C3.1,-1.5 4.5,-0.6 9.3,-0.4 L9.3,0.4 L-7.7,0.4 L-7.7,-0.4 C-3.2,-0.6 -1.9,-1.5 -1.9,-5 L-1.9,-34.5 C-1.9,-37.8 -2.8,-39 -4.6,-39 C-5.6,-39 -6.8,-38.7 -8.3,-38.1 L-8.8,-39.2 L2.2,-44.7 Z" fill="#000"/>
<text x="2835.72" y="876.50" font-size="66.5" text-anchor="start">0</text>
<text x="2870.62" y="876.50" font-size="66.5" text-anchor="start">,</text>
<path transform="translate(2908.40,876.50)" d="M-12.2,-19.8 C-10.5,-24.5 -7,-28.3 -1.8,-28.3 L12.9,-28.3 L11.4,-23.3 L2.9,-23.3 L-1.8,-8.2 C-2.6,-5 -1.5,-2.5 1,-2.5 C3,-2.5 4.8,-5 6.3,-7.3 L7.1,-6.7 C5.5,-2.5 2.5,1.4 -1.8,1.4 C-5,1.4 -6.6,-1 -6.6,-4 C-6.6,-6.5 -5.8,-10 -5.2,-12.1 L-1.8,-23.3 L-6.8,-23.3 C-8.5,-23.3 -9.8,-21.8 -10.7,-19.8 Z" fill="#000"/>
<rect x="2929.00" y="848.00" width="35.60" height="3.10" fill="#000"/>
<rect x="2929.00" y="859.00" width="35.60" height="3.10" fill="#000"/>
<path transform="translate(2980.75,876.50)" d="M3.1,-44.7 L3.1,-5 C3.1,-1.5 4.5,-0.6 9.3,-0.4 L9.3,0.4 L-7.7,0.4 L-7.7,-0.4 C-3.2,-0.6 -1.9,-1.5 -1.9,-5 L-1.9,-34.5 C-1.9,-37.8 -2.8,-39 -4.6,-39 C-5.6,-39 -6.8,-38.7 -8.3,-38.1 L-8.8,-39.2 L2.2,-44.7 Z" fill="#000"/>
<polygon points="3006.55,877.70 3009.45,877.70 3025.15,830.50 3022.25,830.50" fill="#000"/>
<text x="3032.50" y="876.50" font-size="66.5" text-anchor="start">2</text>
<text x="3066.93" y="876.50" font-size="66.5" text-anchor="start">0</text>
<rect x="2084.30" y="927.50" width="63.60" height="9.20" fill="#b4b4b4"/>
<text x="2155.00" y="951.30" font-size="66.5" text-anchor="start">mesh</text>
<text x="2293.78" y="951.30" font-size="66.5" text-anchor="start">3</text>
<text x="2329.43" y="951.30" font-size="66.5" text-anchor="start">:</text>
<text x="2355.25" y="951.30" font-size="66.5" text-anchor="start" font-style="italic">h</text>
<rect x="2399.20" y="922.80" width="35.60" height="3.10" fill="#000"/>
<rect x="2399.20" y="933.80" width="35.60" height="3.10" fill="#000"/>
<path transform="translate(2460.30,951.30)" d="M-16,-20 C-14.5,-25 -13,-29.6 -7,-29.6 L16,-29.6 L16,-24.7 L8.5,-24.7 C7.5,-20 6.7,-15 6.7,-10.8 C6.7,-6.5 8,-3.6 10.8,-3.6 C13,-3.6 14.5,-5.5 15.2,-7.7 L16,-7.4 C15,-3 12.5,1.3 8.8,1.3 C4.5,1.3 2.6,-2 2.6,-6.1 C2.6,-12 3.3,-19 3.9,-24.7 L-2.6,-24.7 C-3,-18 -3.8,-10 -5.5,-4 C-6.5,-0.5 -8,1.3 -9.8,1.3 C-12,1.3 -13.3,0 -13.3,-2 C-13.3,-4 -12.5,-5 -11.5,-6 C-8.5,-10 -6.5,-16 -5.4,-24.7 L-10.8,-24.7 C-12.5,-24.7 -13.8,-23 -14.7,-20.5 Z" fill="#000"/>
<polygon points="2483.70,952.50 2487.00,952.50 2510.90,905.30 2507.60,905.30" fill="#000"/>
<path transform="translate(2529.40,951.30)" d="M3.1,-44.7 L3.1,-5 C3.1,-1.5 4.5,-0.6 9.3,-0.4 L9.3,0.4 L-7.7,0.4 L-7.7,-0.4 C-3.2,-0.6 -1.9,-1.5 -1.9,-5 L-1.9,-34.5 C-1.9,-37.8 -2.8,-39 -4.6,-39 C-5.6,-39 -6.8,-38.7 -8.3,-38.1 L-8.8,-39.2 L2.2,-44.7 Z" fill="#000"/>
<text x="2545.74" y="951.30" font-size="66.5" text-anchor="start">6</text>
<text x="2580.12" y="951.30" font-size="66.5" text-anchor="start">,</text>
<path transform="translate(2626.40,951.30)" d="M-20.45,0.4 L-0.4,-44.7 L18.9,0.4 Z M-16.6,-2.1 L11.6,-2.1 L-2.1,-34.4 Z" fill="#000" fill-rule="evenodd"/>
<text transform="translate(2660.20,951.30) skewX(-4.5)" x="-15.98" y="0" font-size="66.5" font-style="italic">β</text>
<rect x="2689.70" y="922.80" width="35.60" height="3.10" fill="#000"/>
<rect x="2689.70" y="933.80" width="35.60" height="3.10" fill="#000"/>
<path transform="translate(2751.55,951.30)" d="M3.1,-44.7 L3.1,-5 C3.1,-1.5 4.5,-0.6 9.3,-0.4 L9.3,0.4 L-7.7,0.4 L-7.7,-0.4 C-3.2,-0.6 -1.9,-1.5 -1.9,-5 L-1.9,-34.5 C-1.9,-37.8 -2.8,-39 -4.6,-39 C-5.6,-39 -6.8,-38.7 -8.3,-38.1 L-8.8,-39.2 L2.2,-44.7 Z" fill="#000"/>
<polygon points="2774.70,952.50 2778.00,952.50 2801.90,905.30 2798.60,905.30" fill="#000"/>
<path transform="translate(2820.20,951.30)" d="M3.1,-44.7 L3.1,-5 C3.1,-1.5 4.5,-0.6 9.3,-0.4 L9.3,0.4 L-7.7,0.4 L-7.7,-0.4 C-3.2,-0.6 -1.9,-1.5 -1.9,-5 L-1.9,-34.5 C-1.9,-37.8 -2.8,-39 -4.6,-39 C-5.6,-39 -6.8,-38.7 -8.3,-38.1 L-8.8,-39.2 L2.2,-44.7 Z" fill="#000"/>
<text x="2835.29" y="951.30" font-size="66.5" text-anchor="start">6</text>
<text x="2870.62" y="951.30" font-size="66.5" text-anchor="start">,</text>
<path transform="translate(2908.40,951.30)" d="M-12.2,-19.8 C-10.5,-24.5 -7,-28.3 -1.8,-28.3 L12.9,-28.3 L11.4,-23.3 L2.9,-23.3 L-1.8,-8.2 C-2.6,-5 -1.5,-2.5 1,-2.5 C3,-2.5 4.8,-5 6.3,-7.3 L7.1,-6.7 C5.5,-2.5 2.5,1.4 -1.8,1.4 C-5,1.4 -6.6,-1 -6.6,-4 C-6.6,-6.5 -5.8,-10 -5.2,-12.1 L-1.8,-23.3 L-6.8,-23.3 C-8.5,-23.3 -9.8,-21.8 -10.7,-19.8 Z" fill="#000"/>
<rect x="2929.00" y="922.80" width="35.60" height="3.10" fill="#000"/>
<rect x="2929.00" y="933.80" width="35.60" height="3.10" fill="#000"/>
<path transform="translate(2980.75,951.30)" d="M3.1,-44.7 L3.1,-5 C3.1,-1.5 4.5,-0.6 9.3,-0.4 L9.3,0.4 L-7.7,0.4 L-7.7,-0.4 C-3.2,-0.6 -1.9,-1.5 -1.9,-5 L-1.9,-34.5 C-1.9,-37.8 -2.8,-39 -4.6,-39 C-5.6,-39 -6.8,-38.7 -8.3,-38.1 L-8.8,-39.2 L2.2,-44.7 Z" fill="#000"/>
<polygon points="3006.55,952.50 3009.45,952.50 3025.15,905.30 3022.25,905.30" fill="#000"/>
<text x="3032.00" y="951.30" font-size="66.5" text-anchor="start">4</text>
<text x="3066.93" y="951.30" font-size="66.5" text-anchor="start">0</text>
</svg></body></html>
